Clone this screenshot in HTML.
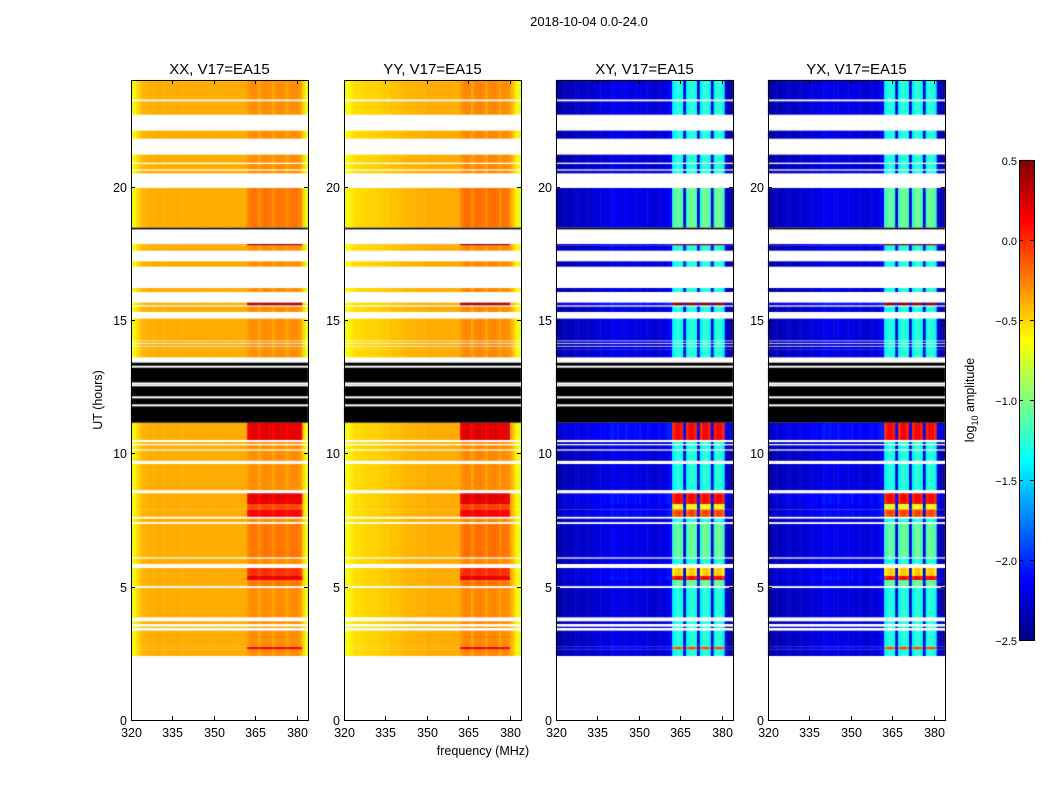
<!DOCTYPE html>
<html><head><meta charset="utf-8"><style>
body{margin:0;background:#fff;width:1050px;height:800px;overflow:hidden;font-family:"Liberation Sans",sans-serif;}
#wrap{position:relative;width:1050px;height:800px;}
canvas{position:absolute;}
svg{position:absolute;left:0;top:0;}
</style></head><body>
<div id="wrap">
<svg id="ov" width="1050" height="800"></svg>
</div>
<script>
// ---- data ----
const panelTitles = ["XX, V17=EA15","YY, V17=EA15","XY, V17=EA15","YX, V17=EA15"];
const xTicks = [320,335,350,365,380];
const yTicks = [0,5,10,15,20];
const cbTicks = [0.5,0.0,-0.5,-1.0,-1.5,-2.0,-2.5];
const cbLabels = ["0.5","0.0","\u22120.5","\u22121.0","\u22121.5","\u22122.0","\u22122.5"];
// channel start frequencies (MHz), 1 MHz wide
const channels = [320,321,322,323,324,325,326,327,328,329,330,331,332,333,334,335,336,337,338,339,340,341,342,343,344,345,346,347,348,349,350,351,352,353,354,355,356,357,358,359,360,361,362,363,364,365,366,367,368,369,370,371,372,373,374,375,376,377,378,379,380,381,382,383];
// log10 amplitude base spectra
const xxProfile = [-0.7,-0.58,-0.5,-0.45,-0.4,-0.42,-0.38,-0.38,-0.4,-0.38,-0.38,-0.38,-0.4,-0.38,-0.38,-0.38,-0.38,-0.38,-0.4,-0.38,-0.38,-0.38,-0.38,-0.38,-0.38,-0.38,-0.38,-0.38,-0.38,-0.38,-0.38,-0.38,-0.38,-0.38,-0.38,-0.38,-0.38,-0.38,-0.38,-0.38,-0.38,-0.38,-0.32,-0.3,-0.28,-0.3,-0.36,-0.3,-0.28,-0.28,-0.3,-0.36,-0.3,-0.28,-0.28,-0.3,-0.36,-0.3,-0.28,-0.28,-0.3,-0.36,-0.52,-0.7];
const yyProfile = [-0.72,-0.62,-0.57,-0.54,-0.52,-0.52,-0.52,-0.5,-0.5,-0.5,-0.49,-0.49,-0.48,-0.48,-0.47,-0.47,-0.46,-0.45,-0.44,-0.44,-0.43,-0.42,-0.41,-0.41,-0.4,-0.4,-0.4,-0.39,-0.39,-0.39,-0.38,-0.38,-0.38,-0.38,-0.38,-0.38,-0.38,-0.38,-0.38,-0.38,-0.38,-0.38,-0.32,-0.28,-0.26,-0.28,-0.35,-0.28,-0.26,-0.26,-0.28,-0.35,-0.28,-0.26,-0.26,-0.28,-0.35,-0.28,-0.28,-0.3,-0.38,-0.48,-0.6,-0.72];
const xyProfile = [-2.45,-2.4,-2.4,-2.35,-2.4,-2.35,-2.35,-2.3,-2.35,-2.35,-2.35,-2.3,-2.35,-2.3,-2.28,-2.28,-2.28,-2.25,-2.28,-2.25,-2.2,-2.25,-2.2,-2.25,-2.28,-2.2,-2.25,-2.28,-2.25,-2.28,-2.2,-2.28,-2.28,-2.25,-2.3,-2.3,-2.3,-2.25,-2.3,-2.25,-2.2,-2.2,-1.4,-1.3,-1.25,-1.35,-2.3,-1.4,-1.25,-1.25,-1.35,-2.3,-1.4,-1.25,-1.25,-1.35,-2.3,-1.35,-1.25,-1.25,-1.4,-2.3,-2.4,-2.45];
// time segments: start hour, end hour, type (d=data,k=black), band boost
const segStart = [2.4,2.65,2.75,3.45,3.6,3.85,5.02,5.25,5.4,5.85,6.1,7.42,7.62,7.9,8.1,8.62,9.72,10.15,10.35,10.5,11.15,13.6,13.9,14.03,14.13,14.23,15.3,15.55,16.05,17.0,17.6,17.8,18.4,18.47,20.5,20.65,20.9,21.8,22.7,23.27];
const segEnd   = [2.65,2.75,3.35,3.5,3.7,4.95,5.25,5.4,5.7,6.05,7.35,7.55,7.9,8.1,8.5,9.6,10.1,10.3,10.42,11.15,13.4,13.9,14.0,14.1,14.2,15.05,15.5,15.65,16.2,17.2,17.8,17.85,18.47,19.95,20.6,20.85,21.2,22.1,23.2,24.0];
const segType  = ["d","d","d","d","d","d","d","d","d","d","d","d","d","d","d","d","d","d","d","d","k","d","d","d","d","d","d","d","d","d","d","d","k","d","d","d","d","d","d","d"];
const segBoost = [0.2,0.9,0.25,0.2,0.2,0.2,0.4,1.0,0.7,0.3,0.4,0.3,0.9,0.6,1.0,0.3,0.3,0.3,0.3,1.0,0,0.3,0.3,0.3,0.3,0.3,0.3,1.2,0.2,0.2,0.2,1.2,0,0.4,0.2,0.2,0.2,0.2,0.3,0.3];
// thin flagged lines within black block
const blackGaps = [11.8,12.1,12.55,12.62,13.25];

// ---- layout ----
const panelX = [131,344,556,768], PW=177, PT=80, PB=720;
const fMin=320,fMax=384,tMin=0,tMax=24;
const xs=(f,i)=>panelX[i]+(f-fMin)/(fMax-fMin)*PW;
const ys=t=>PB-(t-tMin)/(tMax-tMin)*(PB-PT);
const vMin=-2.5,vMax=0.5;
function jet(v){let x=Math.max(0,Math.min(1,(v-vMin)/(vMax-vMin)));
 const c=(a)=>Math.max(0,Math.min(1,a));
 const r=c(Math.min(4*x-1.5,-4*x+4.5)),g=c(Math.min(4*x-0.5,-4*x+3.5)),b=c(Math.min(4*x+0.5,-4*x+2.5));
 return `rgb(${Math.round(r*255)},${Math.round(g*255)},${Math.round(b*255)})`;}
const profiles=[xxProfile,yyProfile,xyProfile,xyProfile];
const wrap=document.getElementById('wrap');
for(let p=0;p<4;p++){
 const cv=document.createElement('canvas');
 cv.width=1050;cv.height=800;cv.style.left='0px';cv.style.top='0px';
 
 
 wrap.insertBefore(cv,wrap.firstChild);
 const ctx=cv.getContext('2d');
 const prof=profiles[p];
 for(let s=0;s<segStart.length;s++){
  const y0=ys(segEnd[s]),y1=ys(segStart[s]);
  if(segType[s]==='k'){ctx.fillStyle='#000';ctx.fillRect(panelX[p],y0,PW,y1-y0);continue;}
  for(let c=0;c<channels.length;c++){
   const f=channels[c];
   const inBand=f>=362&&f<=381&&prof[c]> (p<2?-0.37:-2.0);
   let v=prof[c];
   if(inBand) v+= p<2? Math.max(0,segBoost[s]-0.3)*0.7 : Math.max(0,segBoost[s]-0.3)*2.0;
   else if(p>=2) v+= segBoost[s]*0.15;
   ctx.fillStyle=jet(v);
   const x0=xs(f,p),x1=xs(f+1,p);
   ctx.fillRect(x0,y0,x1-x0+0.5,y1-y0);
  }
 }
 ctx.fillStyle='#fff';
 for(const g of blackGaps){ctx.fillRect(panelX[p],ys(g)-1,PW,2);}
}
// ---- overlay ----
const NS='http://www.w3.org/2000/svg',ov=document.getElementById('ov');
function el(tag,attrs,txt){const e=document.createElementNS(NS,tag);for(const k in attrs)e.setAttribute(k,attrs[k]);if(txt!==undefined)e.textContent=txt;ov.appendChild(e);return e;}
for(let p=0;p<4;p++){
 const fr=el('rect',{x:panelX[p]+0.5,y:PT+0.5,width:PW,height:PB-PT,fill:'none',stroke:'#000','stroke-width':1});
 
 
 const t=el('text',{x:panelX[p]+PW/2,y:74,'text-anchor':'middle','font-size':15},panelTitles[p]);
 
 
 for(const f of xTicks){const x=Math.round(xs(f,p))+0.5;
  el('line',{x1:x,x2:x,y1:PB,y2:PB-4,stroke:'#000'});el('line',{x1:x,x2:x,y1:PT,y2:PT+4,stroke:'#000'});
  const l=el('text',{x:x,y:737,'text-anchor':'middle','font-size':12.5},String(f));
  
  }
 for(const tv of yTicks){const y=Math.round(ys(tv))+0.5;
  el('line',{x1:panelX[p],x2:panelX[p]+4,y1:y,y2:y,stroke:'#000'});el('line',{x1:panelX[p]+PW,x2:panelX[p]+PW-4,y1:y,y2:y,stroke:'#000'});
  const l=el('text',{x:panelX[p]-4,y:y+4.5,'text-anchor':'end','font-size':12.5},String(tv));
  
  }
}
let e;
e=el('text',{x:589,y:26,'text-anchor':'middle','font-size':13},"2018-10-04 0.0-24.0");


e=el('text',{x:483,y:755,'text-anchor':'middle','font-size':12.5},"frequency (MHz)");


e=el('text',{x:0,y:0,'text-anchor':'middle','font-size':12.5,transform:'translate(102,400) rotate(-90)'},"UT (hours)");


// colorbar
const cbX=1019,cbW=15,cbT=160,cbB=640;
const cbY=v=>cbB-(v-vMin)/(vMax-vMin)*(cbB-cbT);
for(let i=0;i<480;i++){const v=vMin+(i+0.5)/480*(vMax-vMin);
 el('rect',{x:cbX,y:cbY(v)-0.6,width:cbW,height:1.3,fill:jet(v)});}
e=el('rect',{x:cbX+0.5,y:cbT+0.5,width:cbW,height:cbB-cbT,fill:'none',stroke:'#000'});


cbTicks.forEach((v,i)=>{const y=Math.round(cbY(v))+0.5;
 el('line',{x1:cbX,x2:cbX+4,y1:y,y2:y,stroke:'#000'});el('line',{x1:cbX+cbW,x2:cbX+cbW-4,y1:y,y2:y,stroke:'#000'});
 const l=el('text',{x:cbX-2,y:y+4.5,'text-anchor':'end','font-size':11},cbLabels[i]);
 
 });
e=el('text',{x:0,y:0,'text-anchor':'middle','font-size':12.5,transform:'translate(974,400) rotate(-90)'});
e.innerHTML='log<tspan font-size="9" dy="4">10</tspan><tspan dy="-4"> amplitude</tspan>';


</script>
</body></html>
